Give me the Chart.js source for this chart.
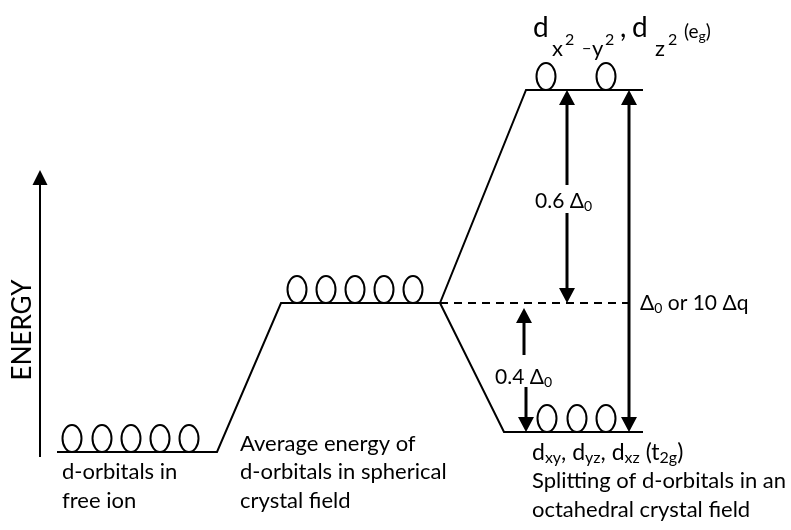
<!DOCTYPE html>
<html lang="en">
<head>
  <meta charset="UTF-8" />
  <title>Crystal field splitting of d-orbitals</title>
  <script src="https://cdn.jsdelivr.net/npm/chart.js"></script>
  <style>
    html, body {
      margin: 0;
      padding: 0;
      background: #ffffff;
    }
    #diagram {
      display: block;
    }
  </style>
</head>
<body>
  <canvas id="diagram" width="791" height="530"></canvas>

  <script>
    // diagram units: x to the right, y downward (0 at top)
    const levelPathMain = [[57, 452], [217, 452], [281, 303], [440, 303], [526, 90], [643, 90]];
    const levelPathT2g = [[440, 303], [504, 432], [643, 432]];
    const barycentrePath = [[440, 303], [629, 303]];

    // orbitals: centres along x, and the level each group sits on
    const freeIonX = [72, 102, 131, 160, 189];
    const freeIonY = 452;
    const sphericalX = [297, 326, 355, 384, 413];
    const sphericalY = 303;
    const egX = [546, 606];
    const egY = 90;
    const t2gX = [547, 577, 606];
    const t2gY = 432;

    // arrows: [x, tail, tip]
    const splitArrows = [
      [567, 185, 90], [567, 213, 303],   // 0.6 Δ0
      [629, 261, 90], [629, 261, 432],   // Δ0
      [524, 355, 308], [526, 387, 432]   // 0.4 Δ0
    ];
    const energyArrow = [40, 457, 170];

    const FONT = 'Lato, "Open Sans", "DejaVu Sans", sans-serif';

    // text: [x, baseline, runs]; run = [text, size, dy]
    const textItems = [
      // e_g label, pieces placed one by one
      [533, 37, [['d', 28, 0]]],
      [552, 56, [['x', 22, 0]]],
      [565, 45, [['2', 16, 0]]],
      [582, 54, [['\u2212', 16, 0]]],
      [592, 56, [['y', 22, 0]]],
      [605, 45, [['2', 16, 0]]],
      [620, 37, [[',', 28, 0]]],
      [632, 37, [['d', 28, 0]]],
      [655, 56, [['z', 22, 0]]],
      [668, 45, [['2', 16, 0]]],
      [684, 38, [['(e', 19, 0], ['g', 14, 3], [')', 19, 0]]],

      [535, 208, [['0.6 \u0394', 21, 0], ['0', 14, 3]]],
      [495, 384, [['0.4 \u0394', 21, 0], ['0', 14, 3]]],
      [640, 310, [['\u0394', 21, 0], ['0', 14, 3], [' or 10 \u0394q', 21, 0]]],

      [62, 479, [['d-orbitals in', 22, 0]]],
      [62, 508, [['free ion', 22, 0]]],
      [240, 451, [['Average energy of', 22, 0]]],
      [240, 479, [['d-orbitals in spherical', 22, 0]]],
      [240, 508, [['crystal field', 22, 0]]],
      [532, 460, [['d', 23, 0], ['xy', 16, 3], [', d', 23, 0], ['yz', 16, 3], [', d', 23, 0], ['xz', 16, 3],
                  [' (t', 23, 0], ['2g', 16, 3], [')', 23, 0]]],
      [532, 488, [['Splitting of d-orbitals in an', 22, 0]]],
      [532, 517, [['octahedral crystal field', 22, 0]]]
    ];

    function ellipseImage(rx, ry, lw) {
      const c = document.createElement('canvas');
      c.width = 2 * Math.ceil(rx + lw);
      c.height = 4 * Math.ceil(ry + lw);
      const g = c.getContext('2d');
      g.lineWidth = lw;
      g.strokeStyle = '#000';
      g.beginPath();
      // bottom of the ellipse sits at the image centre, i.e. on the level
      g.ellipse(c.width / 2, c.height / 2 - ry, rx, ry, 0, 0, Math.PI * 2);
      g.stroke();
      return c;
    }
    const orbitalImg = ellipseImage(9.5, 13.5, 2);

    function toPoints(path) {
      return path.map(p => ({ x: p[0], y: p[1] }));
    }

    function lineSet(path, dash) {
      return {
        data: toPoints(path),
        showLine: true,
        borderColor: '#000',
        borderWidth: 2,
        borderDash: dash || [],
        pointRadius: 0,
        tension: 0
      };
    }

    function orbitalSet(xs, level) {
      return {
        data: xs.map(x => ({ x, y: level })),
        showLine: false,
        pointStyle: orbitalImg,
        pointRadius: 10
      };
    }

    function drawArrow(ctx, sx, sy, a, shaft, headW, headL) {
      const px = sx.getPixelForValue(a[0]);
      const tail = sy.getPixelForValue(a[1]);
      const tip = sy.getPixelForValue(a[2]);
      const dir = tip > tail ? 1 : -1;
      const base = tip - dir * headL;
      ctx.lineWidth = shaft;
      ctx.beginPath();
      ctx.moveTo(px, tail);
      ctx.lineTo(px, base);
      ctx.stroke();
      ctx.beginPath();
      ctx.moveTo(px, tip);
      ctx.lineTo(px - headW / 2, base);
      ctx.lineTo(px + headW / 2, base);
      ctx.closePath();
      ctx.fill();
    }

    const diagramPlugin = {
      id: 'diagram',
      afterDatasetsDraw(chart) {
        const { ctx, scales: { x, y } } = chart;
        ctx.save();
        ctx.strokeStyle = '#000';
        ctx.fillStyle = '#000';

        splitArrows.forEach(a => drawArrow(ctx, x, y, a, 3, 16, 15));
        drawArrow(ctx, x, y, energyArrow, 2, 15, 15);

        // ENERGY label on the axis
        ctx.save();
        ctx.translate(x.getPixelForValue(23), y.getPixelForValue(330));
        ctx.rotate(-Math.PI / 2);
        ctx.font = '26px ' + FONT;
        ctx.textAlign = 'center';
        ctx.textBaseline = 'middle';
        ctx.fillText('ENERGY', 0, 0);
        ctx.restore();

        ctx.textAlign = 'left';
        ctx.textBaseline = 'alphabetic';
        textItems.forEach(item => {
          let px = x.getPixelForValue(item[0]);
          const py = y.getPixelForValue(item[1]);
          item[2].forEach(run => {
            ctx.font = run[1] + 'px ' + FONT;
            ctx.fillText(run[0], px, py + run[2]);
            px += ctx.measureText(run[0]).width;
          });
        });
        ctx.restore();
      }
    };

    new Chart(document.getElementById('diagram'), {
      type: 'scatter',
      data: {
        datasets: [
          lineSet(levelPathMain),
          lineSet(levelPathT2g),
          lineSet(barycentrePath, [8, 6]),
          orbitalSet(freeIonX, freeIonY),
          orbitalSet(sphericalX, sphericalY),
          orbitalSet(egX, egY),
          orbitalSet(t2gX, t2gY)
        ]
      },
      options: {
        responsive: false,
        animation: false,
        layout: { padding: 0, autoPadding: false },
        scales: {
          x: { type: 'linear', min: 0, max: 791, display: false },
          y: { type: 'linear', min: 0, max: 530, reverse: true, display: false }
        },
        plugins: {
          legend: { display: false },
          tooltip: { enabled: false }
        },
        events: []
      },
      plugins: [diagramPlugin]
    });
  </script>
</body>
</html>
